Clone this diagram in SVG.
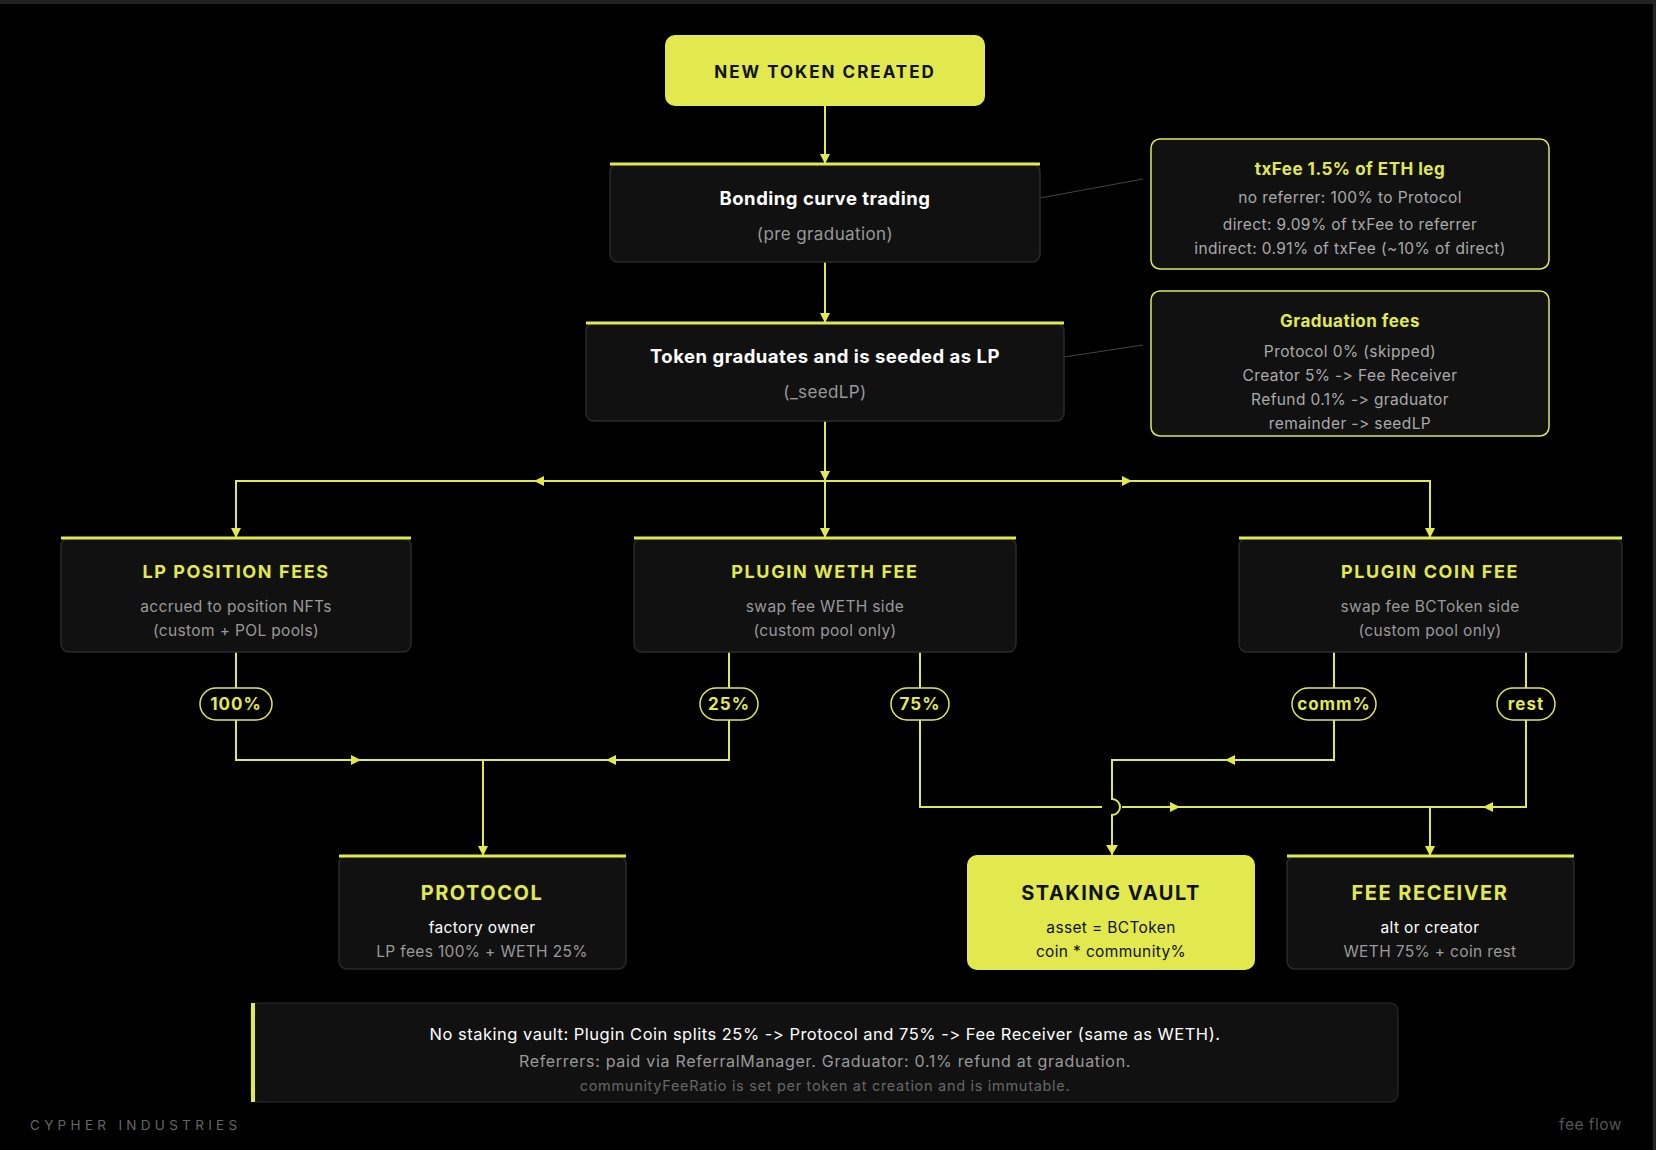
<svg xmlns="http://www.w3.org/2000/svg" width="1656" height="1150" viewBox="0 0 1656 1150">
<defs>
<marker id="arr" viewBox="0 0 10 10" refX="10" refY="5" markerWidth="10" markerHeight="10" markerUnits="userSpaceOnUse" orient="auto"><path d="M0,0 L10,5 L0,10 z" fill="#e1e94f"/></marker>
<marker id="arrL" viewBox="0 0 10 12" refX="10" refY="6" markerWidth="14" markerHeight="12" markerUnits="userSpaceOnUse" orient="auto"><path d="M0,0 L10,6 L0,12 z" fill="#e1e94f"/></marker>
</defs>
<style>
text{font-family:Inter,"Noto Sans","Liberation Sans",sans-serif;text-anchor:middle;font-feature-settings:"calt" 0,"liga" 0;font-variant-ligatures:none}
.box{fill:#111;stroke:#2a2a2a;stroke-width:1.5}
.acc{stroke:#e1e94f;stroke-width:3}
.h{font-size:18.5px;font-weight:700;fill:#fff;letter-spacing:0.5px}
.sub{font-size:17px;fill:#999;letter-spacing:0.4px}
.cap{font-size:18px;font-weight:700;fill:#e1e94f;letter-spacing:1.6px}
.big{font-size:20px;font-weight:700;fill:#e1e94f;letter-spacing:1.5px}
.t{font-size:15.5px;fill:#9a9a9a;letter-spacing:0.35px}
.w{font-size:15.5px;fill:#fff;letter-spacing:0.35px}
.call{fill:#111;stroke:#e1e94f;stroke-width:1.5}
.ct{font-size:17px;font-weight:700;fill:#e1e94f;letter-spacing:0.5px}
.cl{font-size:15.5px;fill:#aaa;letter-spacing:0.4px}
.e{fill:none;stroke:#e1e94f;stroke-width:2}
.badge{fill:#000;stroke:#e1e94f;stroke-width:1.5}
.bt{font-size:17px;font-weight:700;fill:#e1e94f;letter-spacing:1px}
.thin{stroke:#444;stroke-width:1;fill:none}
</style>
<rect width="1656" height="1150" fill="#000"/>
<rect x="0" y="0" width="1656" height="4" fill="#222"/>
<rect x="1653" y="4" width="3" height="1146" fill="#222"/>

<g id="connectors">
<path class="e" d="M825,106 L825,164" marker-end="url(#arr)"/>
<path class="e" d="M825,262 L825,323" marker-end="url(#arr)"/>
<path class="e" d="M825,421 L825,481" marker-end="url(#arr)"/>
<path class="e" d="M825,481 L825,538" marker-end="url(#arr)"/>
<path class="e" d="M825,481 L236,481 L236,538" marker-end="url(#arr)"/>
<path class="e" d="M544,481 L534,481" marker-end="url(#arr)"/>
<path class="e" d="M825,481 L1430,481 L1430,538" marker-end="url(#arr)"/>
<path class="e" d="M1122,481 L1132,481" marker-end="url(#arr)"/>
<path class="e" d="M236,652 L236,760 L483,760"/>
<path class="e" d="M351,760 L361,760" marker-end="url(#arr)"/>
<path class="e" d="M729,652 L729,760 L483,760"/>
<path class="e" d="M616,760 L606,760" marker-end="url(#arr)"/>
<path class="e" d="M483,760 L483,856" marker-end="url(#arr)"/>
<path class="e" d="M920,652 L920,807 L1102,807"/>
<path class="e" d="M1122,807 L1526,807 L1526,652"/>
<path class="e" d="M1170,807 L1180,807" marker-end="url(#arr)"/>
<path class="e" d="M1493,807 L1483,807" marker-end="url(#arr)"/>
<path class="e" d="M1430,807 L1430,856" marker-end="url(#arr)"/>
<path class="e" d="M1334,652 L1334,760 L1112,760 L1112,799 A8,8 0 0 1 1112,815 L1112,855" marker-end="url(#arrL)"/>
<path class="e" d="M1235,760 L1225,760" marker-end="url(#arr)"/>
<path class="thin" d="M1040,198 L1143,179"/>
<path class="thin" d="M1064,357 L1143,345"/>
</g>

<g id="n-new">
<rect x="665" y="35" width="320" height="71" rx="10" fill="#e1e94f"/>
<text x="825" y="78" style="font-size:17px;font-weight:700;fill:#111;letter-spacing:2px">NEW TOKEN CREATED</text>
</g>

<g id="n-bonding">
<rect class="box" x="610" y="164" width="430" height="98" rx="8"/>
<line class="acc" x1="610" y1="164" x2="1040" y2="164"/>
<text class="h" x="825" y="205">Bonding curve trading</text>
<text class="sub" x="825" y="240">(pre graduation)</text>
</g>

<g id="n-grad">
<rect class="box" x="586" y="323" width="478" height="98" rx="8"/>
<line class="acc" x1="586" y1="323" x2="1064" y2="323"/>
<text class="h" x="825" y="363">Token graduates and is seeded as LP</text>
<text class="sub" x="825" y="398">(_seedLP)</text>
</g>

<g id="n-txfee">
<rect class="call" x="1151" y="139" width="398" height="130" rx="9"/>
<text class="ct" x="1350" y="175">txFee 1.5% of ETH leg</text>
<text class="cl" x="1350" y="203">no referrer: 100% to Protocol</text>
<text class="cl" x="1350" y="230">direct: 9.09% of txFee to referrer</text>
<text class="cl" x="1350" y="254">indirect: 0.91% of txFee (~10% of direct)</text>
</g>

<g id="n-gradfees">
<rect class="call" x="1151" y="291" width="398" height="145" rx="9"/>
<text class="ct" x="1350" y="327">Graduation fees</text>
<text class="cl" x="1350" y="357">Protocol 0% (skipped)</text>
<text class="cl" x="1350" y="381">Creator 5% -&gt; Fee Receiver</text>
<text class="cl" x="1350" y="405">Refund 0.1% -&gt; graduator</text>
<text class="cl" x="1350" y="429">remainder -&gt; seedLP</text>
</g>

<g id="n-lp">
<rect class="box" x="61" y="538" width="350" height="114" rx="8"/>
<line class="acc" x1="61" y1="538" x2="411" y2="538"/>
<text class="cap" x="236" y="578">LP POSITION FEES</text>
<text class="t" x="236" y="612">accrued to position NFTs</text>
<text class="t" x="236" y="636">(custom + POL pools)</text>
</g>

<g id="n-weth">
<rect class="box" x="634" y="538" width="382" height="114" rx="8"/>
<line class="acc" x1="634" y1="538" x2="1016" y2="538"/>
<text class="cap" x="825" y="578">PLUGIN WETH FEE</text>
<text class="t" x="825" y="612">swap fee WETH side</text>
<text class="t" x="825" y="636">(custom pool only)</text>
</g>

<g id="n-coin">
<rect class="box" x="1239" y="538" width="383" height="114" rx="8"/>
<line class="acc" x1="1239" y1="538" x2="1622" y2="538"/>
<text class="cap" x="1430" y="578">PLUGIN COIN FEE</text>
<text class="t" x="1430" y="612">swap fee BCToken side</text>
<text class="t" x="1430" y="636">(custom pool only)</text>
</g>

<g id="b-100"><rect class="badge" x="200" y="688" width="72" height="32" rx="16"/><text class="bt" x="236" y="710">100%</text></g>
<g id="b-25"><rect class="badge" x="700" y="688" width="58" height="32" rx="16"/><text class="bt" x="729" y="710">25%</text></g>
<g id="b-75"><rect class="badge" x="891" y="688" width="58" height="32" rx="16"/><text class="bt" x="920" y="710">75%</text></g>
<g id="b-comm"><rect class="badge" x="1292" y="688" width="84" height="32" rx="16"/><text class="bt" x="1334" y="710">comm%</text></g>
<g id="b-rest"><rect class="badge" x="1497" y="688" width="58" height="32" rx="16"/><text class="bt" x="1526" y="710">rest</text></g>

<g id="n-protocol">
<rect class="box" x="339" y="856" width="287" height="113" rx="8"/>
<line class="acc" x1="339" y1="856" x2="626" y2="856"/>
<text class="big" x="482" y="900">PROTOCOL</text>
<text class="w" x="482" y="933">factory owner</text>
<text class="t" x="482" y="957">LP fees 100% + WETH 25%</text>
</g>

<g id="n-vault">
<rect x="967" y="855" width="288" height="115" rx="10" fill="#e1e94f"/>
<text x="1111" y="900" style="font-size:20px;font-weight:700;fill:#111;letter-spacing:1.5px">STAKING VAULT</text>
<text x="1111" y="933" style="font-size:15.5px;fill:#111;letter-spacing:0.35px">asset = BCToken</text>
<text x="1111" y="957" style="font-size:15.5px;fill:#111;letter-spacing:0.35px">coin * community%</text>
</g>

<g id="n-receiver">
<rect class="box" x="1287" y="856" width="287" height="113" rx="8"/>
<line class="acc" x1="1287" y1="856" x2="1574" y2="856"/>
<text class="big" x="1430" y="900">FEE RECEIVER</text>
<text class="w" x="1430" y="933">alt or creator</text>
<text class="t" x="1430" y="957">WETH 75% + coin rest</text>
</g>

<g id="n-note">
<rect x="251" y="1003" width="1147" height="99" rx="8" fill="#111" stroke="#222" stroke-width="1.5"/>
<rect x="251" y="1003" width="4" height="99" fill="#e1e94f"/>
<text x="825" y="1040" style="font-size:16.5px;fill:#fff;letter-spacing:0.5px">No staking vault: Plugin Coin splits 25% -&gt; Protocol and 75% -&gt; Fee Receiver (same as WETH).</text>
<text x="825" y="1067" style="font-size:16px;fill:#999;letter-spacing:0.7px">Referrers: paid via ReferralManager. Graduator: 0.1% refund at graduation.</text>
<text x="825" y="1091" style="font-size:14.5px;fill:#666;letter-spacing:0.7px">communityFeeRatio is set per token at creation and is immutable.</text>
</g>

<g id="footer">
<text x="30" y="1130" style="font-size:13.5px;fill:#666;letter-spacing:4.3px;text-anchor:start">CYPHER INDUSTRIES</text>
<text x="1622" y="1130" style="font-size:15.5px;fill:#555;letter-spacing:0.5px;text-anchor:end">fee flow</text>
</g>
</svg>
